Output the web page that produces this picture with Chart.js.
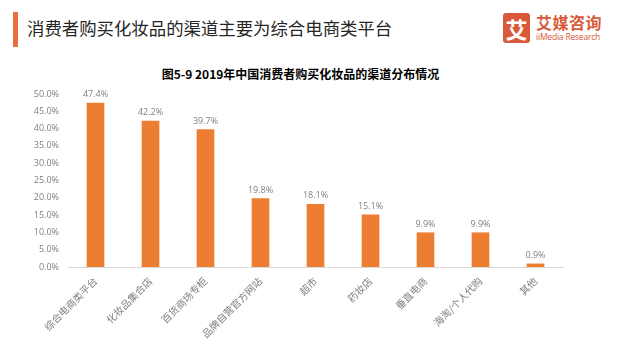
<!DOCTYPE html>
<html>
<head>
<meta charset="utf-8">
<script src="https://cdn.jsdelivr.net/npm/chart.js@4.4.1/dist/chart.umd.min.js"></script>
<style>
html,body{margin:0;padding:0;background:#fff;width:618px;height:339px;overflow:hidden;font-family:"Noto Sans CJK SC","Noto Sans",sans-serif;}
#bar{position:absolute;left:13px;top:12px;width:5px;height:35px;background:#E8703F;}
#head{position:absolute;left:27px;top:13px;font-size:17.4px;color:#262626;line-height:30px;white-space:nowrap;}
#logo{position:absolute;left:503px;top:13px;width:27px;height:30px;background:#D95A3B;color:#fff;font-size:22px;font-weight:bold;text-align:center;line-height:30px;border-radius:3px;}
#logo1{position:absolute;left:536px;top:12px;font-size:16px;color:#D95A3B;font-weight:bold;line-height:20px;letter-spacing:0.5px;}
#logo2{position:absolute;left:536px;top:31px;font-size:8.5px;color:#D95A3B;line-height:11px;font-family:"Open Sans",sans-serif;letter-spacing:-0.2px;}
#sub{position:absolute;left:0;width:601px;top:66px;text-align:center;font-size:12px;font-weight:bold;color:#000;line-height:16px;white-space:nowrap;}
#wrap{position:absolute;left:0;top:58px;width:618px;height:281px;}
</style>
</head>
<body>
<div id="bar"></div>
<div id="head">消费者购买化妆品的渠道主要为综合电商类平台</div>
<div id="logo">艾</div>
<div id="logo1">艾媒咨询</div>
<div id="logo2">iiMedia Research</div>
<div id="sub"></div>
<div id="wrap"><canvas id="c" width="618" height="281"></canvas></div>
<script>
const chartTitle = "图5-9 2019年中国消费者购买化妆品的渠道分布情况";
const categories = ["综合电商类平台","化妆品集合店","百货商场专柜","品牌自营官方网站","超市","药妆店","垂直电商","海淘/个人代购","其他"];
const values = [47.4, 42.2, 39.7, 19.8, 18.1, 15.1, 9.9, 9.9, 0.9];
const yTicks = [0,5,10,15,20,25,30,35,40,45,50];

document.getElementById('sub').textContent = chartTitle;

const labelPlugin = {
  id:'valueLabels',
  afterDatasetsDraw(chart){
    const ctx = chart.ctx;
    const meta = chart.getDatasetMeta(0);
    ctx.save();
    ctx.font = '9px "Open Sans", sans-serif';
    ctx.fillStyle = '#7f7f7f';
    ctx.textAlign = 'center';
    ctx.textBaseline = 'bottom';
    meta.data.forEach((el,i)=>{
      ctx.fillText(values[i].toFixed(1)+'%', el.x, el.y-4);
    });
    ctx.restore();
  }
};

new Chart(document.getElementById('c'),{
  type:'bar',
  data:{labels:categories,datasets:[{data:values,backgroundColor:'#ED7D31',barThickness:17}]},
  options:{
    responsive:false,animation:false,
    layout:{padding:{left:0,right:55,top:36,bottom:0}},
    plugins:{legend:{display:false},tooltip:{enabled:false},title:{display:false}},
    scales:{
      x:{grid:{display:false,drawTicks:false},border:{color:'#d9d9d9'},
         afterFit(s){s.height=72;},
         ticks:{color:'#7f7f7f',font:{size:10,family:'"Noto Sans CJK SC"'},maxRotation:45,minRotation:45,padding:8,autoSkip:false}},
      y:{min:0,max:50,afterBuildTicks(s){s.ticks=yTicks.map(v=>({value:v}));},
         afterFit(s){s.width=68;},
         grid:{display:false,drawTicks:false},border:{display:false},
         ticks:{color:'#7f7f7f',font:{size:9,family:'"Open Sans"'},padding:9,callback:v=>v.toFixed(1)+'%'}}
    }
  },
  plugins:[labelPlugin]
});
</script>
</body>
</html>
